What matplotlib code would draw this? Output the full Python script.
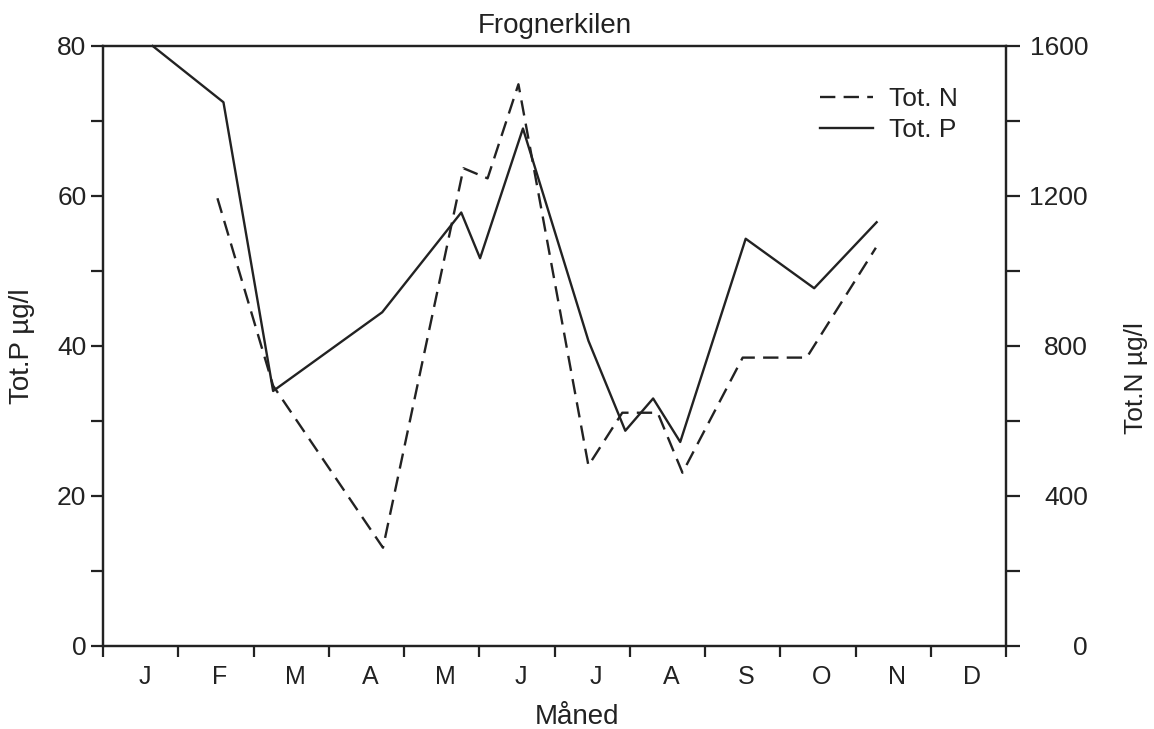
import matplotlib.pyplot as plt
from matplotlib.ticker import MultipleLocator, FixedLocator

# month index (0 = start of January)
p_month = [0.66, 1.60, 2.26, 3.71, 4.76, 5.01, 5.58, 6.45, 6.94, 7.31, 7.67, 8.54, 9.45, 10.28]
p_value = [80, 72.5, 34.0, 44.5, 57.8, 51.7, 69.0, 40.7, 28.7, 33.0, 27.2, 54.3, 47.7, 56.5]

n_month = [1.52, 2.26, 3.72, 4.79, 5.11, 5.52, 6.45, 6.90, 7.37, 7.70, 8.50, 9.35, 10.27]
n_value = [1194, 694, 262, 1274, 1247, 1498, 481, 622, 622, 462, 769, 769, 1062]

months = ['J', 'F', 'M', 'A', 'M', 'J', 'J', 'A', 'S', 'O', 'N', 'D']

plt.rcParams['font.family'] = ['Liberation Sans', 'DejaVu Sans']
ink = '#222222'

fig = plt.figure(figsize=(11.54, 7.29), dpi=100)
ax = fig.add_axes([0.0893, 0.1139, 0.7825, 0.823])
ax2 = ax.twinx()

lp, = ax.plot(p_month, p_value, color=ink, lw=1.7, label='Tot. P', clip_on=False)
ln, = ax2.plot(n_month, n_value, color=ink, lw=1.7, dashes=(6.5, 3.5), label='Tot. N')

ax.set_xlim(0, 12)
ax.set_ylim(0, 80)
ax2.set_ylim(0, 1600)

for a in (ax, ax2):
    for s in a.spines.values():
        s.set_linewidth(1.6)
        s.set_color(ink)

# left axis
ax.yaxis.set_major_locator(MultipleLocator(20))
ax.yaxis.set_minor_locator(MultipleLocator(10))
ax.tick_params(axis='y', which='both', direction='out', length=9, width=1.6,
               color=ink, labelsize=19, pad=3, labelcolor=ink)

# right axis
ax2.yaxis.set_major_locator(MultipleLocator(400))
ax2.yaxis.set_minor_locator(MultipleLocator(200))
ax2.tick_params(axis='y', which='both', direction='out', length=10, width=1.6,
                color=ink, labelsize=19, pad=49, labelcolor=ink)
for t in ax2.get_yticklabels():
    t.set_horizontalalignment('right')

# x axis: ticks at month boundaries, labels in between
ax.xaxis.set_major_locator(FixedLocator(range(13)))
ax.xaxis.set_major_formatter(plt.NullFormatter())
ax.set_xticks([i + 0.55 for i in range(12)], months, minor=True)
ax.tick_params(axis='x', which='major', direction='out', length=8, width=1.6, color=ink)
ax.tick_params(axis='x', which='minor', length=0, labelsize=18, pad=14, labelcolor=ink)

ax.set_title('Frognerkilen', fontsize=20, color=ink, pad=9)
fig.text(0.5, 0.017, 'Måned', fontsize=20, color=ink, ha='center', va='center')
fig.text(0.019, 0.525, 'Tot.P µg/l', fontsize=20, color=ink, rotation=90,
         ha='center', va='center')
fig.text(0.984, 0.481, 'Tot.N µg/l', fontsize=19, color=ink, rotation=90,
         ha='center', va='center')

ax2.legend([ln, lp], ['Tot. N', 'Tot. P'], loc='upper left',
           bbox_to_anchor=(0.690, 0.913), bbox_transform=fig.transFigure,
           frameon=False, fontsize=19, handlelength=2.0, handletextpad=0.6,
           labelspacing=0.25, labelcolor=ink)

fig.savefig('out.png', dpi=100)
